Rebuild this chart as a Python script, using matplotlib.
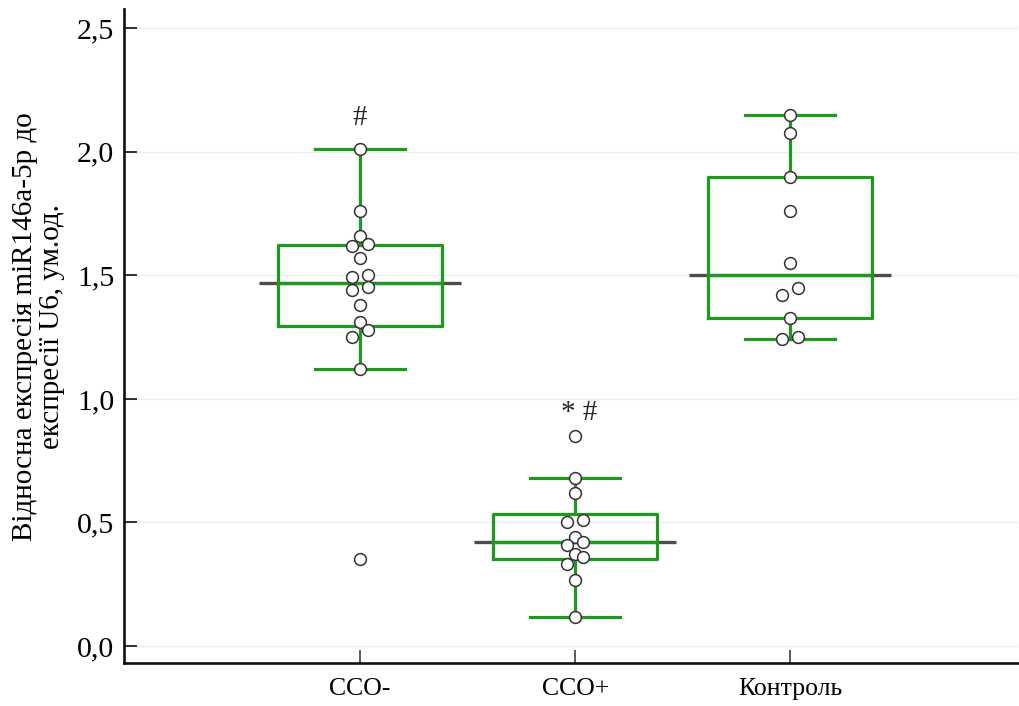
import numpy as np
import matplotlib
matplotlib.use("Agg")
import matplotlib.pyplot as plt

groups = ["CCO-", "CCO+", "Контроль"]

cco_minus = [2.011, 1.760, 1.660, 1.628, 1.619, 1.571, 1.502, 1.493,
             1.451, 1.439, 1.382, 1.312, 1.278, 1.250, 1.122, 0.350]
cco_plus = [0.850, 0.679, 0.620, 0.510, 0.500, 0.442, 0.419, 0.410,
            0.372, 0.361, 0.332, 0.267, 0.116]
control = [2.149, 2.078, 1.899, 1.760, 1.551, 1.448, 1.421, 1.328,
           1.249, 1.241]

# box statistics as shown in the figure
box_q1 = [1.294, 0.351, 1.328]
box_med = [1.470, 0.419, 1.502]
box_q3 = [1.624, 0.534, 1.899]
whisk_lo = [1.122, 0.116, 1.241]
whisk_hi = [2.011, 0.679, 2.149]

# significance marks
marks = ["#", "* #", ""]
mark_y = [2.135, 0.943, None]

yticks = [0.0, 0.5, 1.0, 1.5, 2.0, 2.5]

GREEN = "#1e9a1e"
GRAY = "#4d4d4d"
SERIF = "Liberation Serif"


def swarm_offsets(vals, gap=0.04, step=0.037):
    # simple beeswarm: chain close values into clusters, spread them sideways
    order = np.argsort(vals)[::-1]
    offs = np.zeros(len(vals))
    clusters = []
    for i in order:
        if clusters and abs(vals[clusters[-1][-1]] - vals[i]) < gap:
            clusters[-1].append(i)
        else:
            clusters.append([i])
    for c in clusters:
        if len(c) == 1:
            pat = [0]
        elif len(c) == 2:
            pat = [1, -1]
        else:
            pat = [[0, 1, -1][k % 3] for k in range(len(c))]
        for idx, p in zip(c, pat):
            offs[idx] = p * step
    return offs


fig = plt.figure(figsize=(10.2, 7.06), dpi=100)
ax = fig.add_axes([0.1216, 0.0609, 0.8765, 0.926])

data = [cco_minus, cco_plus, control]
pos = np.arange(len(groups))

stats = []
for i in range(len(groups)):
    stats.append(dict(med=box_med[i], q1=box_q1[i], q3=box_q3[i],
                      whislo=whisk_lo[i], whishi=whisk_hi[i], fliers=[]))

# wide gray median line behind the boxes
ax.hlines(box_med, pos - 0.47, pos + 0.47, colors=GRAY, lw=2.4, zorder=2)

ax.bxp(stats, positions=pos, widths=0.76, capwidths=0.42, showfliers=False,
       boxprops=dict(color=GREEN, lw=2.3),
       whiskerprops=dict(color=GREEN, lw=2.3),
       capprops=dict(color=GREEN, lw=2.3),
       medianprops=dict(color=GREEN, lw=2.3),
       zorder=3)

for i, vals in enumerate(data):
    v = np.array(vals)
    x = pos[i] + swarm_offsets(v)
    ax.plot(x, v, "o", ms=8.5, mfc="white", mec="#333333", mew=1.1,
            ls="none", zorder=5)

for i, m in enumerate(marks):
    if m:
        ax.text(pos[i] + (0.02 if i == 1 else 0), mark_y[i], m,
                ha="center", va="center", fontsize=21, family=SERIF,
                color="#222222")

ax.set_xlim(-1.098, 3.06)
ax.set_ylim(-0.069, 2.577)

ax.set_yticks(yticks)
ax.set_yticklabels([f"{t:.1f}".replace(".", ",") for t in yticks],
                   family=SERIF, fontsize=21.5)
ax.set_xticks(pos)
ax.set_xticklabels(groups, family=SERIF, fontsize=18.5)

ax.yaxis.grid(True, color="#ececec", lw=0.9)
ax.set_axisbelow(True)

ax.tick_params(axis="y", direction="in", length=9.5, width=1.3, pad=7,
               color="#222222")
ax.tick_params(axis="x", direction="in", length=9.5, width=1.3, pad=11,
               color=GRAY)

for s in ["top", "right"]:
    ax.spines[s].set_visible(False)
for s in ["left", "bottom"]:
    ax.spines[s].set_linewidth(1.9)
    ax.spines[s].set_color("#111111")

ax.set_ylabel("Відносна експресія miR146a-5p до\nекспресії U6, ум.од.",
              family=SERIF, fontsize=21, linespacing=1.05)
ax.yaxis.set_label_coords(-0.066, 0.515)

fig.savefig("out.png", dpi=100)
